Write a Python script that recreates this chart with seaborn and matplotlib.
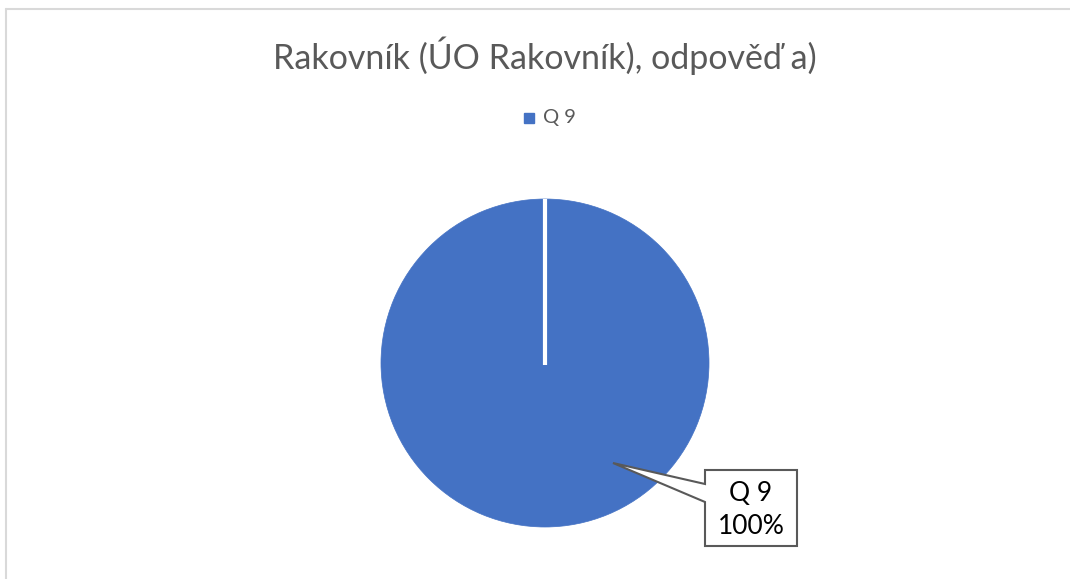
import matplotlib
matplotlib.use("Agg")
import matplotlib.pyplot as plt
import seaborn as sns
from matplotlib.patches import Polygon
from matplotlib.lines import Line2D

sns.set_theme(style="white")
plt.rcParams['font.family'] = ['Lato', 'DejaVu Sans']

# data
categories = ["Q 9"]
values = [100]
title = "Rakovník (ÚO Rakovník), odpověď a)"
color = sns.color_palette(["#4472C4"])[0]
gray = "#595959"

W, H = 1070, 579
fig = plt.figure(figsize=(W / 100, H / 100), dpi=100)
fig.patch.set_facecolor("white")

# light border (top / left)
fig.add_artist(Line2D([6 / W, 6 / W], [0, 1 - 9 / H], color="#d9d9d9", lw=1.5, transform=fig.transFigure))
fig.add_artist(Line2D([6 / W, 1], [1 - 9 / H, 1 - 9 / H], color="#d9d9d9", lw=1.5, transform=fig.transFigure))

cx, cy, r = 545, 363, 164
ax = fig.add_axes([(cx - r) / W, (H - cy - r) / H, 2 * r / W, 2 * r / H])
wedges, _ = ax.pie(values, colors=[color], startangle=90, counterclock=False,
                   wedgeprops=dict(edgecolor=color, linewidth=0.5), radius=1)
# slice border (single full slice: radial edge at the start angle)
ax.plot([0, 0], [-0.01, 1.02], color="white", lw=3, solid_capstyle="butt")
ax.set_xlim(-1, 1)
ax.set_ylim(-1, 1)
ax.set_aspect("auto")
ax.axis("off")

fig.text(cx / W, 1 - 56 / H, title, ha="center", va="center", fontsize=24.5, color=gray)

# legend
fig.add_artist(Line2D([529 / W], [1 - 118 / H], marker="s", color=color, markersize=7,
                      linestyle="none", transform=fig.transFigure))
fig.text(543 / W, 1 - 118 / H, categories[0], ha="left", va="center", fontsize=14.5, color=gray)

# callout
pts = [(705, 470), (797, 470), (797, 546), (705, 546), (705, 502), (613, 463), (705, 484)]
poly = Polygon([(x / W, 1 - y / H) for x, y in pts], closed=True, facecolor="white",
               edgecolor=gray, lw=1.5, transform=fig.transFigure)
fig.add_artist(poly)
pct = values[0] / sum(values) * 100
fig.text(751 / W, 1 - 510 / H, f"{categories[0]}\n{pct:.0f}%", ha="center", va="center",
         fontsize=19, color="black", linespacing=1.4)

fig.savefig("out.png", dpi=100, facecolor="white")
